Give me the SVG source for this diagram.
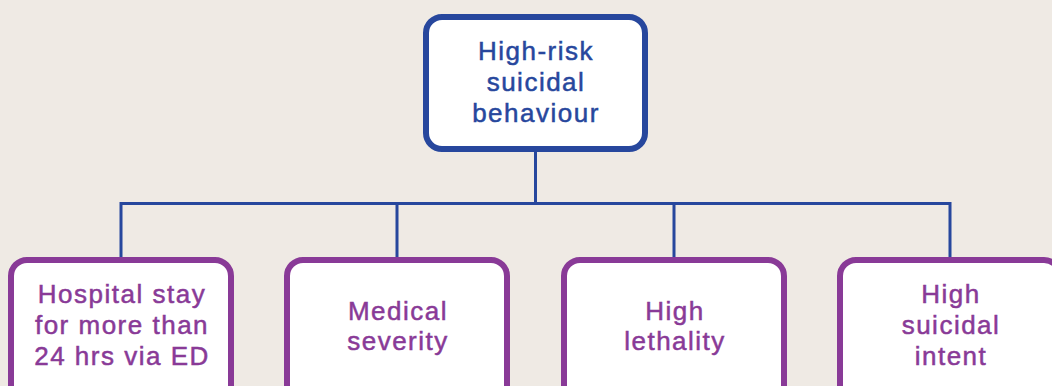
<svg xmlns="http://www.w3.org/2000/svg" width="1052" height="386" viewBox="0 0 1052 386">
<style>
.bg{fill:#efeae4}
.top rect{fill:#ffffff;stroke:#27479d;stroke-width:6}
.leaf rect{fill:#ffffff;stroke:#893a97;stroke-width:6}
text{font-family:"Liberation Sans",Arial,sans-serif;font-size:26px;text-anchor:middle;letter-spacing:1.5px;stroke-width:0.5px}
.top text{fill:#27479d;stroke:#27479d}
.leaf text{fill:#893a97;stroke:#893a97}
.conn{fill:none;stroke:#27479d;stroke-width:3}
</style>
<rect class="bg" x="0" y="0" width="1052" height="386"/>
<g id="connectors" class="conn">
<path d="M535.5 152 V203.5"/>
<path d="M121 257 V203.5 H950 V257"/>
<path d="M397 203.5 V257"/>
<path d="M674 203.5 V257"/>
</g>
<g id="node-top" class="top">
<rect x="426" y="17" width="219" height="132" rx="16"/>
<text x="536" y="60">High-risk</text>
<text x="536" y="91">suicidal</text>
<text x="536" y="122">behaviour</text>
</g>
<g id="node-hospital" class="leaf">
<rect x="11" y="260" width="220" height="150" rx="16"/>
<text x="122" y="303">Hospital stay</text>
<text x="122" y="334">for more than</text>
<text x="122" y="365">24 hrs via ED</text>
</g>
<g id="node-medical" class="leaf">
<rect x="287" y="260" width="220" height="150" rx="16"/>
<text x="398" y="320">Medical</text>
<text x="398" y="350">severity</text>
</g>
<g id="node-lethality" class="leaf">
<rect x="564" y="260" width="220" height="150" rx="16"/>
<text x="675" y="320">High</text>
<text x="675" y="350">lethality</text>
</g>
<g id="node-intent" class="leaf">
<rect x="840" y="260" width="220" height="150" rx="16"/>
<text x="951" y="303">High</text>
<text x="951" y="334">suicidal</text>
<text x="951" y="365">intent</text>
</g>
</svg>
